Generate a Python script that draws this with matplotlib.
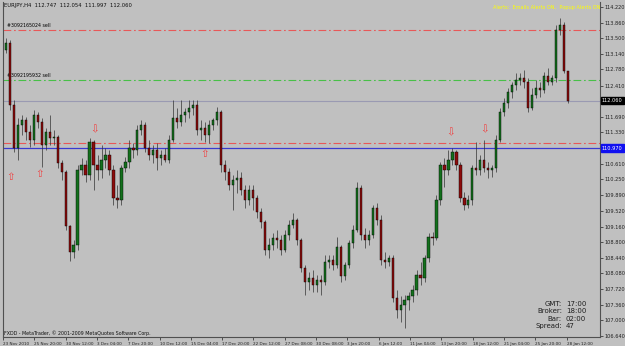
import numpy as np
import matplotlib.pyplot as plt

# EURJPY H4 - moi nen o day gop 2 bar goc, gia doc tu anh
open_first = 113.23
close_px = [113.39, 111.96, 110.97, 111.50, 111.62, 111.34, 111.15, 111.73, 111.57, 111.04,
            111.34, 111.20, 111.22, 110.62, 110.42, 109.17, 108.57, 108.74, 110.46, 110.58,
            110.35, 111.11, 110.58, 110.46, 110.69, 110.81, 110.46, 109.82, 109.77, 110.51,
            110.65, 110.97, 110.92, 111.39, 111.50, 110.97, 110.81, 110.92, 110.74, 110.81,
            110.69, 111.15, 111.66, 111.57, 111.73, 111.80, 111.89, 111.96, 111.39, 111.43,
            111.27, 111.50, 111.62, 111.80, 110.58, 110.42, 110.12, 110.23, 110.28, 110.00,
            109.77, 110.00, 109.82, 109.50, 109.27, 108.62, 108.74, 108.90, 108.85, 108.62,
            108.97, 109.20, 109.31, 108.85, 108.21, 107.88, 107.98, 107.81, 107.93, 107.88,
            108.34, 108.39, 108.27, 108.69, 108.02, 108.27, 108.78, 109.08, 110.05, 108.97,
            108.85, 108.97, 109.59, 109.31, 108.39, 108.34, 108.44, 107.51, 107.24, 107.35,
            107.47, 107.56, 107.70, 108.04, 107.98, 108.44, 108.92, 108.90, 109.77, 110.58,
            110.46, 110.69, 110.88, 110.58, 109.82, 109.66, 109.77, 110.51, 110.46, 110.69,
            110.51, 110.46, 110.51, 111.15, 111.80, 112.01, 112.26, 112.42, 112.54, 112.58,
            112.49, 111.89, 112.19, 112.35, 112.31, 112.63, 112.49, 112.58, 113.69, 113.80,
            112.75, 112.06]
high_px = [113.50, 113.46, 112.08, 111.66, 111.73, 111.68, 111.50, 111.85, 111.80, 111.66,
           111.43, 111.73, 111.39, 111.27, 110.69, 110.46, 109.20, 108.85, 110.58, 110.74,
           110.69, 111.20, 111.15, 110.81, 111.04, 110.97, 110.92, 110.58, 110.12, 110.58,
           110.76, 111.15, 111.09, 111.50, 111.62, 111.57, 111.15, 111.04, 111.09, 110.92,
           110.97, 111.27, 112.08, 111.89, 112.08, 111.89, 112.08, 112.08, 112.08, 111.62,
           111.57, 111.62, 111.66, 111.92, 111.85, 110.69, 110.51, 110.35, 110.46, 110.42,
           110.12, 110.12, 110.12, 109.89, 109.59, 109.31, 108.90, 109.01, 109.08, 108.97,
           109.08, 109.31, 109.47, 109.36, 108.90, 108.27, 108.11, 108.16, 108.04, 108.04,
           108.51, 108.51, 108.51, 108.92, 108.74, 108.34, 108.85, 109.20, 110.19, 110.12,
           109.13, 109.08, 109.66, 109.70, 109.43, 108.57, 108.51, 108.51, 107.70, 107.56,
           107.58, 107.65, 107.81, 108.16, 108.34, 108.51, 109.01, 109.03, 109.89, 110.65,
           110.74, 110.92, 110.97, 110.92, 110.65, 109.96, 109.89, 110.58, 111.11, 110.81,
           111.15, 110.65, 110.58, 111.27, 111.89, 112.12, 112.35, 112.49, 112.70, 112.70,
           112.77, 112.58, 112.35, 112.54, 112.49, 112.72, 112.81, 112.65, 113.80, 113.97,
           113.87, 112.75]
low_px = [113.16, 111.85, 110.88, 110.69, 111.27, 111.15, 110.99, 111.04, 111.43, 110.53,
          110.92, 111.04, 111.04, 110.51, 110.23, 109.08, 108.37, 108.44, 108.62, 110.35,
          110.19, 110.23, 110.00, 110.23, 110.28, 110.51, 110.35, 109.66, 109.59, 109.66,
          110.42, 110.51, 110.74, 110.81, 111.27, 110.88, 110.69, 110.62, 110.46, 110.58,
          110.65, 110.62, 111.11, 111.43, 111.48, 111.57, 111.66, 111.73, 111.27, 111.15,
          111.11, 111.09, 111.39, 111.50, 110.42, 110.23, 110.00, 109.54, 109.93, 109.89,
          109.59, 109.66, 109.54, 109.36, 109.13, 108.51, 108.44, 108.62, 108.67, 108.51,
          108.57, 108.85, 109.13, 108.74, 108.11, 107.58, 107.70, 107.65, 107.65, 107.58,
          107.81, 108.21, 108.16, 108.21, 107.88, 107.93, 108.21, 108.67, 109.03, 108.85,
          108.67, 108.74, 108.90, 109.20, 108.27, 108.21, 108.25, 107.42, 107.05, 106.96,
          106.82, 107.24, 107.42, 107.58, 107.81, 107.88, 108.34, 108.74, 108.85, 109.66,
          110.07, 110.35, 110.58, 110.46, 109.73, 109.54, 109.59, 109.66, 110.35, 110.35,
          110.42, 110.28, 110.30, 110.42, 111.11, 111.71, 111.89, 112.12, 112.31, 112.42,
          112.35, 111.80, 111.85, 112.12, 112.15, 112.24, 112.42, 112.42, 112.49, 113.57,
          112.70, 111.997]

x_labels = ['23 Nov 2010', '25 Nov 20:00', '30 Nov 12:00', '3 Dec 04:00', '7 Dec 20:00',
            '10 Dec 12:00', '15 Dec 04:00', '17 Dec 20:00', '22 Dec 12:00', '27 Dec 08:00',
            '30 Dec 08:00', '3 Jan 20:00', '6 Jan 12:00', '11 Jan 04:00', '13 Jan 20:00',
            '18 Jan 12:00', '21 Jan 04:00', '25 Jan 20:00', '28 Jan 12:00']
y_ticks = [114.220, 113.860, 113.500, 113.140, 112.780, 112.410, 111.690, 111.330,
           110.610, 110.250, 109.890, 109.520, 109.160, 108.800, 108.440, 108.080,
           107.720, 107.360, 107.000, 106.640]

# lenh dang mo va muc gia hien tai
order_names = ['#3092165024 sell', '#3092195932 sell']
order_prices = [113.69, 112.54]
order_colors = ['#e85858', '#48c048']
stop_price = 111.09
bid_price = 112.060
line_price = 110.970

# mui ten tin hieu
arrow_idx = [1.25, 8.5, 22.25, 49.75, 111.5, 120.0]
arrow_price = [110.30, 110.37, 111.41, 110.83, 111.34, 111.39]
arrow_up = [True, True, False, True, False, False]

info_names = ['GMT:', 'Broker:', 'Bar:', 'Spread:']
info_values = ['17:00', '18:00', '02:00', '47']

BG = '#c0c0c0'
W, H = 625, 346

fig = plt.figure(figsize=(W / 100, H / 100), dpi=100, facecolor=BG)
ax = fig.add_axes([3 / W, 9 / H, 597 / W, 335 / H], facecolor=BG)

idx = np.arange(len(close_px))
closes = np.array(close_px)
opens = np.array([open_first] + close_px[:-1])
opens[-1] = 112.747
up = closes >= opens

ax.vlines(idx, low_px, high_px, color='#333333', lw=0.5, zorder=3)
ax.bar(idx, closes - opens, bottom=opens, width=0.55,
       color=np.where(up, '#13701c', '#8c0c0c'), edgecolor='black', lw=0.3, zorder=4)

dashdot = (0, (7, 2.5, 1.5, 2.5))
for name, p, c in zip(order_names, order_prices, order_colors):
    ax.axhline(p, color=c, ls=dashdot, lw=0.8, zorder=2)
    ax.text(0.3, p + 0.04, name, fontsize=3.4, color='black', va='bottom', ha='left')
ax.axhline(stop_price, color='#e85858', ls=dashdot, lw=0.8, zorder=2)
ax.axhline(bid_price, color='#9a9ab2', lw=0.8, zorder=2)
ax.axhline(line_price, color='#3a3ad0', lw=0.9, zorder=2)

for xi, yi, u in zip(arrow_idx, arrow_price, arrow_up):
    ax.text(xi, yi, '\u21e7' if u else '\u21e9', color='#f04040', fontsize=7.5,
            ha='center', va='center', zorder=5)

ax.set_xlim(-0.25, 149)
ax.set_ylim(106.616, 114.334)

# truc y ben phai
ax.yaxis.tick_right()
ax.set_yticks(y_ticks)
ax.set_yticklabels([f'{v:.3f}' for v in y_ticks])
ax.tick_params(axis='y', direction='out', length=2, width=0.5, pad=1, labelsize=3.6,
               colors='#202020')

# truc x
xt = np.arange(len(x_labels)) * 7.85 - 0.7
ax.set_xticks(xt)
ax.set_xticklabels(x_labels)
ax.tick_params(axis='x', direction='out', length=2, width=0.5, pad=1.5, labelsize=3.0,
               colors='#202020')
for lab in ax.get_xticklabels():
    lab.set_horizontalalignment('left')

for s in ['left', 'right', 'bottom']:
    ax.spines[s].set_color('#505050')
    ax.spines[s].set_linewidth(0.8)
ax.spines['top'].set_visible(False)

# hop gia hien tai
ax.text(1.003, bid_price, f'{bid_price:.3f}', transform=ax.get_yaxis_transform(),
        fontsize=3.6, color='white', va='center', ha='left',
        bbox=dict(boxstyle='square,pad=0.25', fc='black', ec='black'))
ax.text(1.003, line_price, f'{line_price:.3f}', transform=ax.get_yaxis_transform(),
        fontsize=3.6, color='white', va='center', ha='left',
        bbox=dict(boxstyle='square,pad=0.25', fc='#1010f0', ec='#1010f0'))

# chu tren bieu do
fig.text(4 / W, 1 - 6 / H, 'EURJPY,H4  112.747  112.054  111.997  112.060', fontsize=3.8,
         color='#101010', va='center', ha='left')
fig.text(600 / W, 1 - 7 / H, 'Alerts:  Emails Alerts ON,  Popup Alerts ON', fontsize=3.6,
         color='#ffff00', va='center', ha='right')
fig.text(4 / W, 1 - 333 / H, 'FXDD - MetaTrader, \u00a9 2001-2009 MetaQuotes Software Corp.',
         fontsize=3.4, color='#101010', va='center', ha='left')

for k, (n, v) in enumerate(zip(info_names, info_values)):
    yy = 1 - (304 + 7.3 * k) / H
    fig.text(562 / W, yy, n, fontsize=5, color='#202020', va='center', ha='right')
    fig.text(566 / W, yy, v, fontsize=5, color='#202020', va='center', ha='left')

fig.savefig('out.png', dpi=100, facecolor=BG)
